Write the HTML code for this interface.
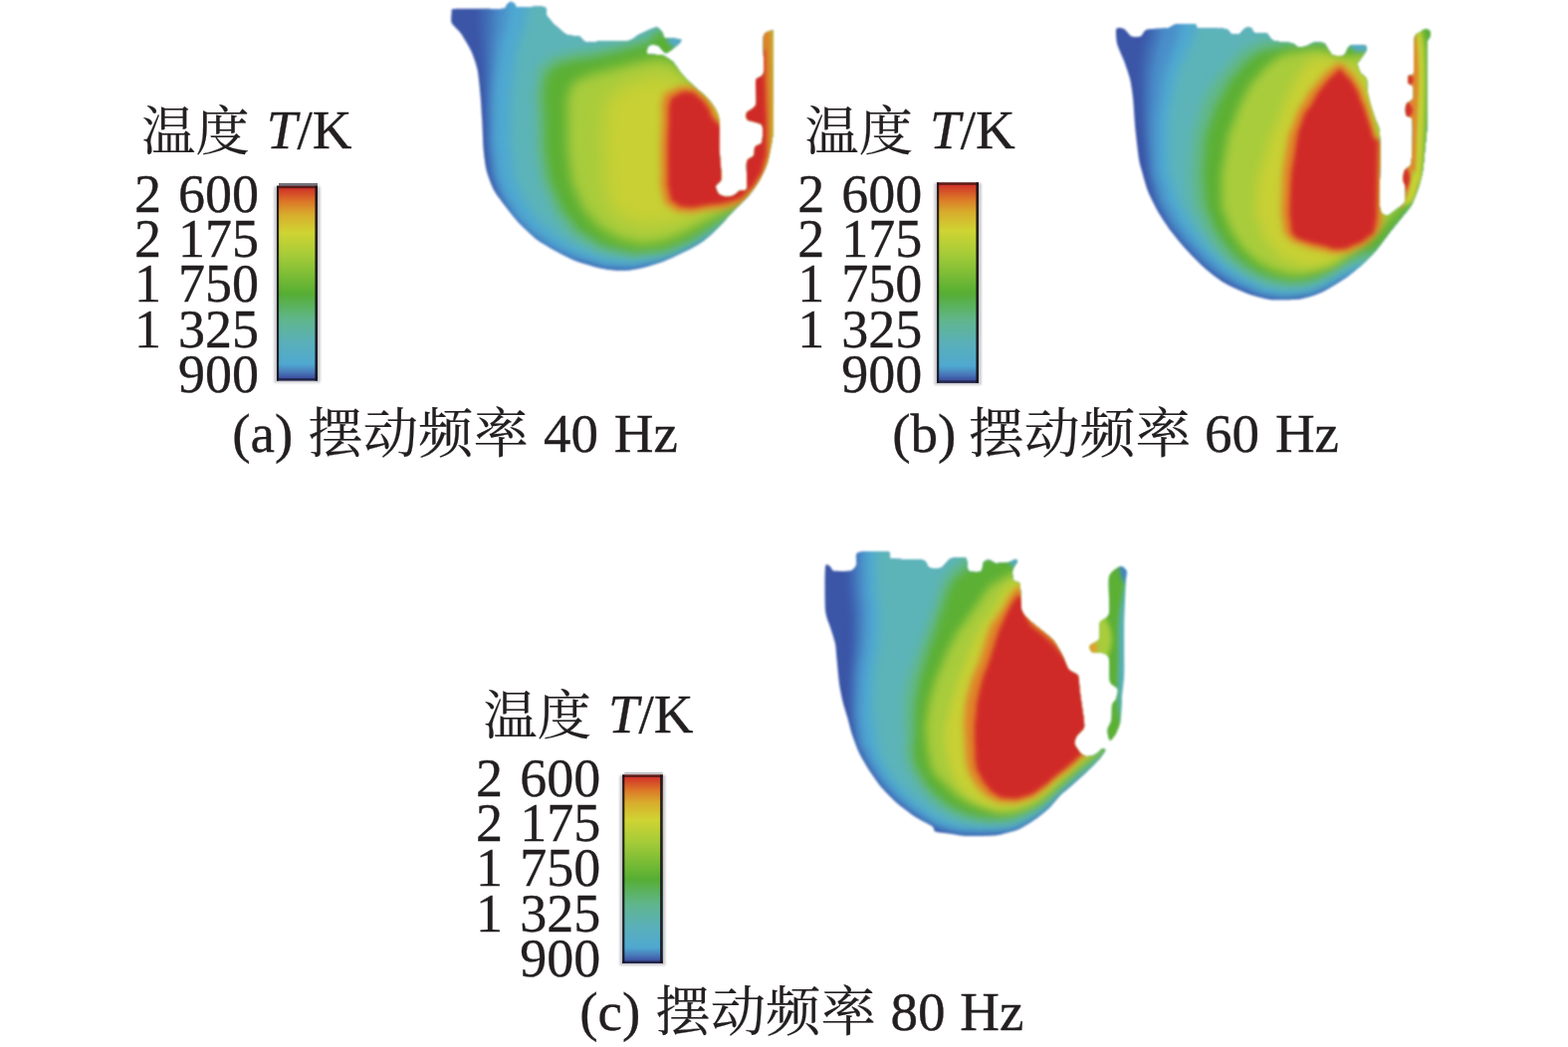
<!DOCTYPE html>
<html lang="zh">
<head>
<meta charset="utf-8">
<title>不同摆动频率下的温度场</title>
<style>
html,body{margin:0;padding:0;background:#fff;}
body{width:1575px;height:1052px;overflow:hidden;position:relative;}
svg{position:absolute;left:0;top:0;display:block;}
text{font-family:"Liberation Serif","Noto Serif CJK SC",serif;fill:#231f20;stroke:#231f20;stroke-width:0.35px;}
.t{font-size:55px;}
.n{font-size:54px;text-anchor:end;word-spacing:3.6px;}
.c{font-size:55px;}
.zh{font-family:"Noto Serif CJK SC","Liberation Serif",serif;font-size:53px;stroke-width:0.2px;}
.zh2{font-family:"Noto Serif CJK SC","Liberation Serif",serif;font-size:54px;stroke-width:0.2px;}
</style>
</head>
<body>
<svg width="1575" height="1052" viewBox="0 0 1575 1052">
<defs>
<linearGradient id="cb" x1="0" y1="0" x2="0" y2="1">
<stop offset="0" stop-color="#b02c28"/>
<stop offset="0.012" stop-color="#d03228"/>
<stop offset="0.085" stop-color="#dc7a28"/>
<stop offset="0.147" stop-color="#d8ac2c"/>
<stop offset="0.24" stop-color="#cfd433"/>
<stop offset="0.36" stop-color="#a4cb38"/>
<stop offset="0.553" stop-color="#56ae33"/>
<stop offset="0.686" stop-color="#60b68c"/>
<stop offset="0.80" stop-color="#5ab0b8"/>
<stop offset="0.916" stop-color="#4fa8d0"/>
<stop offset="0.958" stop-color="#4878b8"/>
<stop offset="0.987" stop-color="#3c4fa0"/>
<stop offset="1" stop-color="#33408c"/>
</linearGradient>
<filter id="b1" x="-50%" y="-50%" width="200%" height="200%" color-interpolation-filters="sRGB"><feGaussianBlur stdDeviation="0.8"/></filter>
<filter id="b2" x="-50%" y="-50%" width="200%" height="200%" color-interpolation-filters="sRGB"><feGaussianBlur stdDeviation="2"/></filter>
<filter id="b3" x="-50%" y="-50%" width="200%" height="200%" color-interpolation-filters="sRGB"><feGaussianBlur stdDeviation="3"/></filter>
<filter id="b4" x="-50%" y="-50%" width="200%" height="200%" color-interpolation-filters="sRGB"><feGaussianBlur stdDeviation="4"/></filter>
<filter id="b5" x="-50%" y="-50%" width="200%" height="200%" color-interpolation-filters="sRGB"><feGaussianBlur stdDeviation="5"/></filter>
<filter id="b6" x="-50%" y="-50%" width="200%" height="200%" color-interpolation-filters="sRGB"><feGaussianBlur stdDeviation="6"/></filter>
<filter id="b9" x="-50%" y="-50%" width="200%" height="200%" color-interpolation-filters="sRGB"><feGaussianBlur stdDeviation="9"/></filter>
<filter id="bh" x="-10%" y="-5%" width="120%" height="110%" color-interpolation-filters="sRGB"><feGaussianBlur stdDeviation="0.45"/></filter>
<filter id="soft" x="-5%" y="-5%" width="110%" height="110%" color-interpolation-filters="sRGB"><feGaussianBlur stdDeviation="0.9"/></filter>
<clipPath id="clipA"><path d="M453.7,12.0 C453.9,10.4 452.4,9.4 455.5,9.0 C458.6,8.6 474.2,8.8 480.0,8.8 C485.8,8.8 502.1,9.2 505.5,8.8 C508.9,8.4 508.1,5.8 509.0,5.0 C509.9,4.2 512.1,1.9 513.0,1.8 C513.9,1.7 516.2,3.4 517.0,4.0 C517.8,4.6 516.5,7.0 520.0,7.3 C523.5,7.6 543.3,6.1 546.7,7.0 C550.1,7.9 547.8,13.1 549.0,15.2 C550.2,17.3 554.9,22.8 557.3,25.1 C559.7,27.4 566.7,33.7 569.5,35.0 C572.3,36.3 579.4,35.7 581.7,36.6 C584.0,37.5 586.3,42.2 589.3,42.7 C592.3,43.2 602.6,41.3 607.6,41.1 C612.6,40.9 627.9,41.6 632.0,40.8 C636.1,40.0 639.5,35.9 642.7,34.3 C645.9,32.7 656.7,27.6 659.4,27.4 C662.1,27.2 664.5,31.6 665.5,32.8 C666.5,34.0 665.8,37.3 667.8,38.1 C669.8,38.9 681.2,38.8 683.0,39.3 C684.8,39.8 684.6,41.1 683.0,42.7 C681.4,44.3 671.9,52.9 669.3,53.3 C666.7,53.6 663.0,46.6 661.0,45.7 C659.0,44.8 653.0,44.7 651.8,45.7 C650.6,46.7 648.7,52.9 650.3,54.1 C651.9,55.3 662.5,54.6 665.5,55.6 C668.5,56.6 673.9,60.3 676.2,62.5 C678.5,64.7 682.8,71.9 685.3,74.7 C687.8,77.5 694.7,84.2 697.5,86.9 C700.3,89.6 707.2,94.8 709.7,97.5 C712.2,100.2 717.4,106.9 718.9,109.7 C720.4,112.5 722.3,117.1 722.7,121.9 C723.1,126.7 722.5,144.9 722.7,150.5 C722.9,156.1 724.0,166.7 724.2,170.3 C724.4,173.9 724.8,179.1 724.2,181.0 C723.6,182.9 719.2,185.4 718.9,187.0 C718.6,188.6 720.7,193.5 721.9,194.7 C723.1,195.9 727.7,197.5 729.5,197.7 C731.3,197.9 735.5,196.9 737.1,196.2 C738.7,195.5 741.7,192.4 743.2,191.6 C744.7,190.8 749.3,192.7 750.1,189.3 C750.9,185.9 749.3,166.5 750.1,162.7 C750.9,158.9 756.0,158.4 757.0,156.6 C758.0,154.8 757.5,149.0 758.5,147.4 C759.5,145.8 764.5,145.4 765.3,142.9 C766.1,140.4 767.0,128.3 765.3,125.7 C763.6,123.1 752.7,121.8 750.9,120.4 C749.1,119.0 749.0,115.3 750.0,113.5 C751.0,111.7 758.1,108.9 759.2,105.1 C760.3,101.3 758.3,84.5 759.2,80.8 C760.1,77.1 766.0,78.3 766.9,73.1 C767.8,67.9 766.1,41.5 766.9,36.6 C767.7,31.7 772.5,31.6 773.7,31.2 C774.9,30.8 776.4,27.8 776.8,33.5 C777.2,39.2 776.8,68.8 776.8,80.0 C776.8,91.2 777.0,122.2 776.8,129.5 C776.6,136.8 775.9,138.9 775.2,142.9 C774.5,146.9 772.1,159.8 770.7,164.2 C769.3,168.6 765.1,177.3 763.0,181.0 C760.9,184.7 755.4,192.7 752.4,196.2 C749.4,199.7 740.7,207.7 737.1,211.4 C733.5,215.1 725.4,224.6 721.9,228.2 C718.4,231.8 710.3,239.2 706.7,241.9 C703.1,244.6 695.8,248.7 691.4,251.0 C687.0,253.3 672.6,260.0 668.6,261.7 C664.6,263.4 659.7,264.9 657.0,265.8 C654.3,266.7 648.4,268.4 645.7,269.0 C643.0,269.6 636.7,270.9 634.0,271.2 C631.3,271.5 625.6,271.8 622.9,271.8 C620.2,271.8 613.7,271.4 611.0,271.0 C608.3,270.6 604.0,269.9 600.0,268.8 C596.0,267.7 581.9,263.6 577.1,261.7 C572.3,259.8 563.3,255.1 558.9,252.6 C554.5,250.1 543.3,243.6 539.0,240.4 C534.7,237.2 525.8,228.8 522.3,225.1 C518.8,221.4 511.6,212.3 508.6,208.4 C505.6,204.5 498.7,195.9 496.4,191.6 C494.1,187.3 490.0,176.6 488.8,171.8 C487.6,167.0 486.2,156.5 485.7,150.5 C485.2,144.5 484.6,126.2 484.2,120.0 C483.8,113.8 483.2,103.3 482.7,97.5 C482.2,91.7 480.7,75.4 479.6,70.1 C478.5,64.8 475.4,56.1 473.5,51.8 C471.6,47.5 465.2,36.9 462.9,33.5 C460.6,30.1 454.8,25.4 453.7,22.9 C452.6,20.4 453.5,13.6 453.7,12.0Z"/></clipPath>
<clipPath id="clipB"><path d="M1121.3,29.0 C1122.1,27.2 1127.2,28.1 1129.0,29.0 C1130.8,29.9 1134.7,35.7 1136.6,36.6 C1138.5,37.5 1143.9,37.4 1145.7,36.6 C1147.5,35.8 1148.6,30.7 1151.8,29.7 C1155.0,28.7 1169.7,28.8 1173.1,28.2 C1176.5,27.6 1177.6,24.8 1180.8,24.4 C1184.0,24.0 1197.9,24.0 1200.6,24.4 C1203.3,24.8 1200.1,27.7 1203.6,28.2 C1207.1,28.7 1227.1,28.3 1231.0,29.0 C1234.9,29.7 1235.5,33.7 1237.1,34.3 C1238.7,34.9 1243.2,35.0 1244.8,34.3 C1246.4,33.6 1249.5,28.9 1250.9,28.2 C1252.3,27.5 1255.9,27.7 1257.0,28.2 C1258.1,28.7 1258.2,32.2 1260.0,32.8 C1261.8,33.4 1270.0,32.6 1272.2,33.5 C1274.4,34.4 1276.0,39.6 1279.0,40.8 C1282.0,42.0 1295.2,42.7 1298.1,43.4 C1301.0,44.1 1302.6,46.8 1304.2,47.2 C1305.8,47.6 1310.0,47.0 1311.8,46.5 C1313.6,46.0 1317.3,43.1 1319.4,42.7 C1321.5,42.3 1328.3,42.5 1330.1,43.4 C1331.9,44.3 1333.6,48.9 1334.7,50.3 C1335.8,51.7 1337.4,55.0 1339.2,55.6 C1341.0,56.2 1348.1,56.6 1349.9,55.6 C1351.7,54.6 1353.4,48.4 1354.5,47.2 C1355.6,46.0 1357.1,45.2 1359.0,45.0 C1360.9,44.8 1369.6,45.1 1371.2,45.7 C1372.8,46.3 1373.3,48.7 1372.8,50.3 C1372.3,51.9 1367.8,57.8 1366.7,59.4 C1365.6,61.0 1363.6,62.4 1363.6,64.0 C1363.6,65.6 1365.6,71.3 1366.7,73.1 C1367.8,74.9 1372.0,77.1 1372.8,79.2 C1373.6,81.3 1373.0,88.2 1373.5,91.4 C1374.0,94.6 1376.3,103.3 1377.3,106.7 C1378.3,110.1 1380.9,117.6 1381.9,120.4 C1382.9,123.2 1385.2,126.4 1385.7,131.0 C1386.2,135.6 1386.5,151.6 1386.5,160.0 C1386.5,168.4 1385.5,197.0 1385.7,203.3 C1385.9,209.6 1387.0,212.5 1388.0,214.0 C1389.0,215.5 1392.4,216.7 1394.0,216.3 C1395.6,216.0 1399.7,212.5 1401.7,211.0 C1403.7,209.5 1409.7,206.0 1410.9,203.3 C1412.1,200.6 1411.8,190.8 1411.6,188.1 C1411.4,185.4 1409.4,182.5 1409.3,180.5 C1409.2,178.5 1410.0,173.1 1410.9,171.3 C1411.8,169.5 1416.1,167.7 1417.0,165.2 C1417.9,162.7 1418.3,155.2 1418.5,150.0 C1418.7,144.8 1419.2,124.4 1418.5,120.4 C1417.8,116.4 1413.1,117.6 1412.4,115.8 C1411.7,114.0 1411.6,107.1 1412.4,105.1 C1413.2,103.1 1418.4,101.1 1419.2,99.0 C1420.0,96.9 1419.7,88.7 1419.2,86.9 C1418.7,85.1 1415.2,85.0 1414.7,83.8 C1414.2,82.6 1414.1,77.4 1414.7,76.2 C1415.3,75.0 1419.3,77.5 1420.0,73.1 C1420.7,68.7 1420.0,42.9 1420.8,38.1 C1421.6,33.3 1425.7,33.1 1427.0,32.0 C1428.3,30.9 1431.1,29.0 1432.2,29.0 C1433.3,29.0 1436.4,30.9 1436.8,32.0 C1437.2,33.1 1436.4,36.5 1436.0,38.1 C1435.6,39.7 1434.0,35.9 1433.7,45.7 C1433.4,55.5 1434.0,109.7 1433.7,121.9 C1433.4,134.1 1431.9,144.1 1431.4,150.0 C1430.9,155.9 1429.8,168.3 1429.0,172.9 C1428.2,177.5 1425.8,185.9 1424.6,189.6 C1423.4,193.3 1420.3,201.7 1418.5,204.9 C1416.7,208.1 1411.8,213.8 1409.3,217.0 C1406.8,220.2 1400.2,228.2 1397.0,232.3 C1393.8,236.4 1385.5,247.9 1382.0,252.0 C1378.5,256.1 1370.3,264.1 1366.7,267.3 C1363.1,270.5 1355.8,276.5 1351.4,279.5 C1347.0,282.5 1333.9,290.8 1328.6,293.2 C1323.3,295.6 1311.9,299.6 1305.7,300.5 C1299.5,301.4 1281.4,301.6 1275.2,300.9 C1269.0,300.2 1257.7,296.8 1252.4,294.8 C1247.1,292.8 1234.5,287.1 1229.5,284.1 C1224.5,281.1 1214.1,272.8 1209.7,268.9 C1205.3,265.0 1195.3,254.9 1191.4,250.6 C1187.5,246.3 1179.4,236.6 1176.2,232.3 C1173.0,228.0 1166.7,218.6 1164.0,214.0 C1161.3,209.4 1155.3,197.6 1153.3,192.7 C1151.3,187.8 1148.1,175.8 1147.0,172.0 C1145.9,168.2 1144.8,165.0 1144.0,160.0 C1143.2,155.0 1141.1,136.6 1140.4,129.5 C1139.7,122.4 1138.7,104.9 1138.1,99.0 C1137.5,93.1 1136.1,83.6 1135.0,79.2 C1133.9,74.8 1130.5,65.1 1129.0,61.0 C1127.5,56.9 1123.0,47.9 1122.1,44.2 C1121.2,40.5 1120.5,30.8 1121.3,29.0Z"/></clipPath>
<clipPath id="clipC"><path d="M829.0,569.7 C829.6,564.6 833.4,569.3 834.4,569.7 C835.4,570.1 835.1,573.1 837.4,573.5 C839.7,573.9 851.5,574.2 854.2,573.5 C856.9,572.8 859.4,569.5 860.3,567.4 C861.2,565.3 858.1,556.7 861.8,555.2 C865.5,553.7 888.4,553.8 892.3,554.5 C896.2,555.2 891.2,560.3 895.3,561.3 C899.4,562.3 922.9,561.8 927.3,562.9 C931.7,564.0 931.3,569.6 933.4,570.5 C935.5,571.4 943.1,571.6 945.6,570.5 C948.1,569.4 952.0,562.5 954.8,561.3 C957.6,560.1 967.9,559.2 970.0,560.6 C972.1,562.0 971.2,571.9 973.0,573.5 C974.8,575.1 983.4,575.4 985.2,574.3 C987.0,573.2 987.2,565.7 988.3,564.4 C989.4,563.1 993.0,562.7 994.4,562.9 C995.8,563.1 998.4,565.6 1000.5,565.9 C1002.6,566.2 1010.4,565.5 1012.7,565.1 C1015.0,564.7 1019.2,562.2 1020.3,562.1 C1021.4,562.0 1022.2,563.2 1021.8,564.4 C1021.4,565.6 1017.6,570.6 1017.2,572.8 C1016.8,575.0 1017.1,581.3 1018.0,583.0 C1018.9,584.7 1023.5,583.5 1024.5,587.0 C1025.5,590.5 1025.3,608.9 1026.4,613.1 C1027.5,617.3 1031.7,620.7 1034.0,623.0 C1036.3,625.3 1043.4,630.6 1046.2,633.0 C1049.0,635.4 1055.9,640.6 1058.4,643.6 C1060.9,646.6 1065.7,655.5 1067.5,658.9 C1069.3,662.3 1071.8,670.3 1073.6,672.6 C1075.4,674.9 1081.6,676.7 1082.8,678.7 C1084.0,680.7 1084.0,687.3 1084.3,690.0 C1084.6,692.7 1085.4,699.0 1085.8,702.2 C1086.2,705.4 1087.6,714.0 1088.0,717.4 C1088.4,720.8 1089.7,728.4 1088.9,731.1 C1088.1,733.8 1082.3,738.3 1081.2,740.3 C1080.1,742.3 1079.2,746.0 1079.7,747.9 C1080.2,749.8 1084.4,755.6 1085.8,757.0 C1087.2,758.4 1090.3,759.8 1091.9,760.0 C1093.5,760.2 1097.7,759.5 1099.5,758.6 C1101.3,757.7 1105.8,753.0 1107.0,752.5 C1108.2,752.0 1110.5,752.8 1110.2,754.0 C1109.9,755.2 1106.1,760.6 1104.0,763.1 C1101.9,765.6 1095.1,772.3 1091.9,775.3 C1088.7,778.3 1079.9,786.2 1076.7,789.0 C1073.5,791.8 1067.2,797.0 1064.5,799.7 C1061.8,802.4 1056.8,809.1 1053.8,811.9 C1050.8,814.7 1042.2,821.6 1038.6,824.1 C1035.0,826.6 1027.7,831.4 1023.3,833.2 C1018.9,835.0 1006.7,838.5 1000.5,839.3 C994.3,840.1 975.3,840.2 970.0,840.0 C964.7,839.8 958.4,838.3 954.8,837.8 C951.2,837.3 941.6,836.4 939.5,835.5 C937.4,834.6 938.8,831.9 936.5,830.2 C934.2,828.5 923.8,823.7 919.7,821.0 C915.6,818.3 905.3,810.7 901.4,807.3 C897.5,803.9 889.4,795.8 886.2,792.1 C883.0,788.4 876.7,779.4 874.0,775.3 C871.3,771.2 865.4,761.4 863.3,757.0 C861.2,752.6 857.1,741.5 855.7,737.2 C854.3,732.9 852.2,724.2 851.1,720.5 C850.0,716.8 847.5,708.8 846.6,705.2 C845.7,701.6 843.9,692.4 843.5,690.0 C843.1,687.6 843.1,688.1 842.8,684.8 C842.4,681.5 840.9,666.3 840.5,661.9 C840.1,657.5 839.7,650.3 839.0,646.7 C838.3,643.1 835.6,635.3 834.4,631.4 C833.2,627.5 829.6,620.3 829.0,613.1 C828.4,605.9 828.4,574.8 829.0,569.7Z"/></clipPath>
<clipPath id="clipD"><path d="M1125.4,569.0 C1127.4,568.3 1130.9,571.6 1131.5,573.5 C1132.1,575.4 1131.1,578.9 1130.8,585.7 C1130.5,592.5 1129.4,620.7 1129.2,631.4 C1129.0,642.1 1129.5,669.0 1129.2,677.0 C1128.9,685.0 1127.3,696.7 1127.0,700.0 C1126.7,703.3 1127.2,702.3 1127.0,705.2 C1126.8,708.1 1126.1,721.3 1125.4,725.0 C1124.7,728.7 1122.1,735.0 1120.9,737.2 C1119.7,739.4 1116.4,743.7 1115.5,744.1 C1114.6,744.5 1113.5,741.6 1113.2,740.3 C1112.9,739.0 1112.1,734.7 1112.5,732.7 C1112.9,730.7 1115.8,726.3 1116.3,723.5 C1116.8,720.7 1116.5,710.8 1117.0,708.3 C1117.5,705.8 1120.3,704.1 1120.9,702.2 C1121.5,700.3 1123.1,694.4 1122.4,692.4 C1121.7,690.4 1115.8,688.3 1114.8,684.8 C1113.8,681.3 1114.7,665.3 1114.0,662.0 C1113.3,658.7 1110.6,657.3 1108.7,656.6 C1106.8,655.9 1099.6,656.2 1098.0,655.8 C1096.4,655.4 1095.3,653.7 1095.0,652.8 C1094.7,651.9 1094.0,649.5 1095.0,648.2 C1096.0,646.9 1102.8,644.7 1104.0,642.0 C1105.2,639.3 1103.7,628.3 1104.9,625.3 C1106.1,622.3 1112.9,621.5 1114.0,616.2 C1115.1,610.9 1112.7,585.1 1114.0,579.6 C1115.3,574.1 1123.4,569.7 1125.4,569.0Z"/></clipPath>
</defs>
<g filter="url(#soft)"><g clip-path="url(#clipA)">
<rect x="440" y="-10" width="360" height="300" fill="#3b55a7"/>
<path d="M484.0,-20.0 C483.9,-6.7 482.9,-6.7 483.6,20.0 C484.2,46.7 484.0,26.7 486.0,60.0 C488.0,93.3 487.7,86.7 489.5,120.0 C491.3,153.3 489.2,138.3 491.5,160.0 C493.8,181.7 491.5,170.0 496.5,185.0 C501.5,200.0 498.5,192.0 506.5,205.0 C514.5,218.0 509.8,212.0 520.5,224.0 C531.2,236.0 524.7,231.5 538.5,241.0 C552.3,250.5 545.5,245.7 562.0,252.5 C578.5,259.3 568.7,256.5 588.0,261.5 C607.3,266.5 599.3,266.5 620.0,267.5 C640.7,268.5 631.7,268.0 650.0,264.5 C668.3,261.0 660.0,262.7 675.0,257.0 C690.0,251.3 681.7,254.3 695.0,247.5 C708.3,240.7 693.3,247.8 715.0,236.5 C736.7,225.2 745.0,221.2 760.0,213.5 L800.0,215.0 L800.0,-20.0Z" fill="#4170b8" filter="url(#b4)"/>
<path d="M497.0,-20.0 C496.7,-6.7 497.0,-6.7 496.0,20.0 C495.0,46.7 495.3,26.7 494.0,60.0 C492.7,93.3 492.0,86.7 492.0,120.0 C492.0,153.3 491.7,138.3 494.0,160.0 C496.3,181.7 494.0,170.0 499.0,185.0 C504.0,200.0 501.0,192.0 509.0,205.0 C517.0,218.0 512.3,212.0 523.0,224.0 C533.7,236.0 528.0,231.0 541.0,241.0 C554.0,251.0 546.3,246.7 562.0,254.0 C577.7,261.3 568.7,258.0 588.0,263.0 C607.3,268.0 599.3,268.0 620.0,269.0 C640.7,270.0 631.7,269.5 650.0,266.0 C668.3,262.5 660.0,264.2 675.0,258.5 C690.0,252.8 681.7,255.8 695.0,249.0 C708.3,242.2 693.3,249.3 715.0,238.0 C736.7,226.7 745.0,222.7 760.0,215.0 L800.0,215.0 L800.0,-20.0Z" fill="#4a8fca" filter="url(#b4)"/>
<path d="M512.0,-20.0 C511.0,-6.7 512.7,-6.7 509.0,20.0 C505.3,46.7 505.0,26.7 501.0,60.0 C497.0,93.3 497.7,86.7 497.0,120.0 C496.3,153.3 496.7,138.3 499.0,160.0 C501.3,181.7 499.0,170.0 504.0,185.0 C509.0,200.0 506.0,192.0 514.0,205.0 C522.0,218.0 516.7,212.3 528.0,224.0 C539.3,235.7 534.7,230.7 548.0,240.0 C561.3,249.3 553.3,245.0 568.0,252.0 C582.7,259.0 574.7,256.2 592.0,261.0 C609.3,265.8 600.7,265.5 620.0,266.5 C639.3,267.5 631.7,267.2 650.0,264.0 C668.3,260.8 660.0,262.5 675.0,257.0 C690.0,251.5 681.7,254.2 695.0,247.5 C708.3,240.8 693.3,248.8 715.0,237.0 C736.7,225.2 745.0,220.3 760.0,212.0 L800.0,212.0 L800.0,-20.0Z" fill="#4fa9d1" filter="url(#b4)"/>
<path d="M532.0,-20.0 C530.7,-6.7 532.7,-6.7 528.0,20.0 C523.3,46.7 523.0,26.7 518.0,60.0 C513.0,93.3 514.0,86.7 513.0,120.0 C512.0,153.3 512.3,137.3 515.0,160.0 C517.7,182.7 515.3,172.0 521.0,188.0 C526.7,204.0 523.3,195.3 532.0,208.0 C540.7,220.7 535.3,215.0 547.0,226.0 C558.7,237.0 552.3,232.0 567.0,241.0 C581.7,250.0 573.3,246.5 591.0,253.0 C608.7,259.5 600.3,258.3 620.0,260.5 C639.7,262.7 631.7,262.0 650.0,259.5 C668.3,257.0 660.0,258.2 675.0,253.0 C690.0,247.8 681.7,250.3 695.0,244.0 C708.3,237.7 693.3,246.0 715.0,234.0 C736.7,222.0 745.0,216.7 760.0,208.0 L800.0,208.0 L800.0,-20.0Z" fill="#5cb4b8" filter="url(#b5)"/>
<path d="M700.0,20.0 C687.3,23.3 678.7,24.7 662.0,30.0 C645.3,35.3 664.0,31.3 650.0,36.0 C636.0,40.7 639.3,39.7 620.0,44.0 C600.7,48.3 608.7,46.0 592.0,49.0 C575.3,52.0 584.7,48.7 570.0,53.0 C555.3,57.3 558.3,53.0 548.0,62.0 C537.7,71.0 542.3,60.7 539.0,80.0 C535.7,99.3 537.3,91.7 538.0,120.0 C538.7,148.3 536.7,138.7 541.0,165.0 C545.3,191.3 543.0,179.3 551.0,199.0 C559.0,218.7 553.3,209.3 565.0,224.0 C576.7,238.7 567.7,232.7 586.0,243.0 C604.3,253.3 597.7,250.5 620.0,255.0 C642.3,259.5 633.0,258.2 653.0,256.5 C673.0,254.8 662.3,256.5 680.0,250.0 C697.7,243.5 690.0,246.7 706.0,237.0 C722.0,227.3 710.0,233.3 728.0,221.0 C746.0,208.7 749.3,207.0 760.0,200.0 L800.0,200.0 L800.0,20.0Z" fill="#62b88c" filter="url(#b5)"/>
<path d="M700.0,26.0 C688.3,28.0 681.0,26.7 665.0,32.0 C649.0,37.3 661.0,37.0 652.0,42.0 C643.0,47.0 650.3,43.3 638.0,47.0 C625.7,50.7 630.3,49.3 615.0,53.0 C599.7,56.7 607.0,55.0 592.0,58.0 C577.0,61.0 582.3,58.3 570.0,62.0 C557.7,65.7 562.7,61.3 555.0,69.0 C547.3,76.7 549.7,68.0 547.0,85.0 C544.3,102.0 546.1,93.1 547.0,120.0 C547.9,146.9 545.7,140.3 549.7,165.7 C553.7,191.1 551.3,178.1 558.9,196.2 C566.5,214.3 561.4,206.0 572.6,220.0 C583.8,234.0 575.6,228.1 592.4,238.3 C609.2,248.5 602.7,245.9 622.9,250.5 C643.1,255.1 634.0,253.5 653.0,252.0 C672.0,250.5 662.1,252.7 680.0,246.0 C697.9,239.3 690.4,241.7 706.7,232.0 C723.0,222.3 711.2,229.3 729.0,217.0 C746.8,204.7 749.7,202.3 760.0,195.0 L800.0,195.0 L800.0,26.0Z" fill="#5cb034" filter="url(#b5)"/>
<path d="M720.0,105.0 C713.3,98.7 712.7,98.3 700.0,86.0 C687.3,73.7 693.7,76.7 682.0,68.0 C670.3,59.3 677.3,62.0 665.0,60.0 C652.7,58.0 660.0,59.3 645.0,62.0 C630.0,64.7 637.7,63.3 620.0,68.0 C602.3,72.7 606.0,71.0 592.0,76.0 C578.0,81.0 585.0,76.3 578.0,83.0 C571.0,89.7 573.7,83.7 571.0,96.0 C568.3,108.3 569.7,97.0 570.0,120.0 C570.3,143.0 568.7,139.7 572.0,165.0 C575.3,190.3 572.7,178.0 580.0,196.0 C587.3,214.0 583.3,206.3 594.0,219.0 C604.7,231.7 598.3,226.0 612.0,234.0 C625.7,242.0 620.7,239.7 635.0,243.0 C649.3,246.3 640.0,246.0 655.0,244.0 C670.0,242.0 663.0,244.0 680.0,237.0 C697.0,230.0 689.7,232.0 706.0,223.0 C722.3,214.0 711.0,221.0 729.0,210.0 C747.0,199.0 749.7,196.7 760.0,190.0 L800.0,190.0 L800.0,105.0Z" fill="#a8cc3c" filter="url(#b6)"/>
<path d="M720.0,100.0 C710.0,95.3 706.7,93.7 690.0,86.0 C673.3,78.3 685.0,79.0 670.0,77.0 C655.0,75.0 661.0,75.7 645.0,80.0 C629.0,84.3 633.7,82.7 622.0,90.0 C610.3,97.3 615.0,92.0 610.0,102.0 C605.0,112.0 608.0,99.0 607.0,120.0 C606.0,141.0 606.0,139.7 607.0,165.0 C608.0,190.3 606.3,180.3 610.0,196.0 C613.7,211.7 610.7,203.3 618.0,212.0 C625.3,220.7 619.7,217.3 632.0,222.0 C644.3,226.7 639.0,226.0 655.0,226.0 C671.0,226.0 663.0,226.3 680.0,222.0 C697.0,217.7 689.7,218.7 706.0,213.0 C722.3,207.3 711.0,212.7 729.0,205.0 C747.0,197.3 749.7,195.0 760.0,190.0 L800.0,190.0 L800.0,100.0Z" fill="#c8d034" filter="url(#b9)"/>
<path d="M768.0,22.0 C772.7,-20.7 777.3,-20.7 782.0,22.0 C786.7,64.7 786.7,107.3 782.0,150.0 C777.3,192.7 772.7,192.7 768.0,150.0 C763.3,107.3 763.3,64.7 768.0,22.0Z" fill="#b4c838" filter="url(#b2)"/>
<path d="M730.0,130.0 C727.0,126.0 726.3,126.7 721.0,118.0 C715.7,109.3 719.7,112.3 714.0,104.0 C708.3,95.7 711.3,98.7 704.0,93.0 C696.7,87.3 702.0,87.7 692.0,87.0 C682.0,86.3 682.7,86.7 674.0,91.0 C665.3,95.3 669.0,90.3 666.0,100.0 C663.0,109.7 665.7,98.3 665.0,120.0 C664.3,141.7 663.7,139.7 664.0,165.0 C664.3,190.3 662.7,181.7 666.0,196.0 C669.3,210.3 666.7,202.3 674.0,208.0 C681.3,213.7 676.0,212.0 688.0,213.0 C700.0,214.0 692.7,213.3 710.0,211.0 C727.3,208.7 725.7,211.3 740.0,206.0 C754.3,200.7 745.0,203.3 753.0,195.0 C761.0,186.7 758.0,191.0 764.0,181.0 C770.0,171.0 767.2,178.7 771.0,165.0 C774.8,151.3 773.9,188.3 775.3,140.0 C776.7,91.7 775.3,60.0 775.3,20.0 L740.0,20.0 L740.0,130.0Z" fill="#e08028" filter="url(#b3)"/>
<path d="M730.0,130.0 C725.7,126.7 723.3,127.3 717.0,120.0 C710.7,112.7 716.0,115.3 711.0,108.0 C706.0,100.7 708.3,103.2 702.0,98.0 C695.7,92.8 699.7,93.2 692.0,92.5 C684.3,91.8 685.3,92.2 679.0,96.0 C672.7,99.8 675.3,96.0 673.0,104.0 C670.7,112.0 672.7,99.7 672.0,120.0 C671.3,140.3 670.7,140.0 671.0,165.0 C671.3,190.0 670.3,182.0 673.0,195.0 C675.7,208.0 673.3,199.7 679.0,204.0 C684.7,208.3 679.7,207.3 690.0,208.0 C700.3,208.7 694.3,208.3 710.0,206.0 C725.7,203.7 723.7,205.3 737.0,201.0 C750.3,196.7 742.3,199.7 750.0,193.0 C757.7,186.3 754.3,190.3 760.0,181.0 C765.7,171.7 763.7,178.7 767.0,165.0 C770.3,151.3 769.3,165.0 770.0,140.0 C770.7,115.0 769.7,120.0 769.0,90.0 C768.3,60.0 768.3,63.3 768.0,50.0 L740.0,50.0 L740.0,130.0Z" fill="#d02a28" filter="url(#b2)"/>
<path d="M672.0,34.0 C676.7,29.7 684.0,30.0 690.0,34.0 C696.0,38.0 694.7,41.7 690.0,46.0 C685.3,50.3 682.0,51.0 676.0,47.0 C670.0,43.0 667.3,38.3 672.0,34.0Z" fill="#55aac8" filter="url(#b2)"/>
</g></g>
<g filter="url(#soft)"><g clip-path="url(#clipB)">
<rect x="1100" y="0" width="360" height="320" fill="#3b55a7"/>
<path d="M1157.0,0.0 C1156.3,6.7 1156.3,7.3 1155.0,20.0 C1153.7,32.7 1155.0,27.0 1153.0,38.0 C1151.0,49.0 1150.7,35.3 1149.0,53.0 C1147.3,70.7 1146.6,58.0 1147.8,91.0 C1148.9,124.0 1148.9,119.0 1152.5,152.0 C1156.1,185.0 1153.5,169.7 1158.5,190.0 C1163.5,210.3 1160.5,199.0 1167.5,213.0 C1174.5,227.0 1170.5,219.7 1179.5,232.0 C1188.5,244.3 1183.8,238.3 1194.5,250.0 C1205.2,261.7 1198.7,257.2 1211.5,267.0 C1224.3,276.8 1218.8,272.0 1233.0,279.5 C1247.2,287.0 1239.7,284.0 1254.0,289.5 C1268.3,295.0 1259.0,293.8 1276.0,296.0 C1293.0,298.2 1287.7,298.0 1305.0,296.0 C1322.3,294.0 1314.7,294.8 1328.0,290.0 C1341.3,285.2 1334.3,286.7 1345.0,281.5 C1355.7,276.3 1348.3,280.2 1360.0,274.5 C1371.7,268.8 1366.7,274.8 1380.0,264.5 C1393.3,254.2 1386.7,258.8 1400.0,243.5 C1413.3,228.2 1405.0,240.2 1420.0,218.5 C1435.0,196.8 1436.7,191.8 1445.0,178.5 L1460.0,180.0 L1460.0,0.0Z" fill="#4170b8" filter="url(#b4)"/>
<path d="M1168.0,0.0 C1167.3,6.7 1167.3,7.3 1166.0,20.0 C1164.7,32.7 1166.0,27.0 1164.0,38.0 C1162.0,49.0 1163.0,35.3 1160.0,53.0 C1157.0,70.7 1156.7,58.0 1155.0,91.0 C1153.3,124.0 1153.0,119.0 1155.0,152.0 C1157.0,185.0 1156.0,169.7 1161.0,190.0 C1166.0,210.3 1163.0,199.0 1170.0,213.0 C1177.0,227.0 1173.0,219.7 1182.0,232.0 C1191.0,244.3 1186.3,238.3 1197.0,250.0 C1207.7,261.7 1202.0,256.7 1214.0,267.0 C1226.0,277.3 1219.7,273.0 1233.0,281.0 C1246.3,289.0 1239.7,285.5 1254.0,291.0 C1268.3,296.5 1259.0,295.3 1276.0,297.5 C1293.0,299.7 1287.7,299.5 1305.0,297.5 C1322.3,295.5 1314.7,296.3 1328.0,291.5 C1341.3,286.7 1334.3,288.2 1345.0,283.0 C1355.7,277.8 1348.3,281.7 1360.0,276.0 C1371.7,270.3 1366.7,276.3 1380.0,266.0 C1393.3,255.7 1386.7,260.3 1400.0,245.0 C1413.3,229.7 1405.0,241.7 1420.0,220.0 C1435.0,198.3 1436.7,193.3 1445.0,180.0 L1460.0,180.0 L1460.0,0.0Z" fill="#4a8fca" filter="url(#b4)"/>
<path d="M1187.0,0.0 C1186.3,6.7 1186.3,7.3 1185.0,20.0 C1183.7,32.7 1185.7,27.0 1183.0,38.0 C1180.3,49.0 1182.3,35.3 1177.0,53.0 C1171.7,70.7 1171.7,58.0 1167.0,91.0 C1162.3,124.0 1162.3,119.0 1163.0,152.0 C1163.7,185.0 1164.0,170.0 1169.0,190.0 C1174.0,210.0 1171.0,198.3 1178.0,212.0 C1185.0,225.7 1181.0,218.7 1190.0,231.0 C1199.0,243.3 1194.7,237.7 1205.0,249.0 C1215.3,260.3 1210.0,255.3 1221.0,265.0 C1232.0,274.7 1226.0,270.3 1238.0,278.0 C1250.0,285.7 1244.0,282.5 1257.0,288.0 C1270.0,293.5 1261.0,292.3 1277.0,294.5 C1293.0,296.7 1288.3,296.5 1305.0,294.5 C1321.7,292.5 1313.7,293.5 1327.0,288.5 C1340.3,283.5 1334.0,284.7 1345.0,279.5 C1356.0,274.3 1348.3,278.2 1360.0,273.0 C1371.7,267.8 1366.7,273.3 1380.0,264.0 C1393.3,254.7 1386.7,259.7 1400.0,245.0 C1413.3,230.3 1405.0,241.7 1420.0,220.0 C1435.0,198.3 1436.7,193.3 1445.0,180.0 L1460.0,180.0 L1460.0,0.0Z" fill="#4fa9d1" filter="url(#b4)"/>
<path d="M1204.0,0.0 C1203.3,6.7 1203.7,7.3 1202.0,20.0 C1200.3,32.7 1202.3,27.0 1199.0,38.0 C1195.7,49.0 1198.7,35.3 1192.0,53.0 C1185.3,70.7 1185.0,58.0 1179.0,91.0 C1173.0,124.0 1173.7,119.0 1174.0,152.0 C1174.3,185.0 1175.3,170.7 1180.0,190.0 C1184.7,209.3 1181.7,197.0 1188.0,210.0 C1194.3,223.0 1191.0,217.0 1199.0,229.0 C1207.0,241.0 1202.7,235.3 1212.0,246.0 C1221.3,256.7 1216.7,252.0 1227.0,261.0 C1237.3,270.0 1232.0,265.7 1243.0,273.0 C1254.0,280.3 1248.0,277.3 1260.0,283.0 C1272.0,288.7 1264.0,287.3 1279.0,290.0 C1294.0,292.7 1289.3,292.5 1305.0,291.0 C1320.7,289.5 1312.3,290.8 1326.0,285.5 C1339.7,280.2 1334.7,281.0 1346.0,275.0 C1357.3,269.0 1350.3,271.8 1360.0,267.5 C1369.7,263.2 1361.7,269.5 1375.0,262.0 C1388.3,254.5 1385.0,259.0 1400.0,245.0 C1415.0,231.0 1405.0,241.7 1420.0,220.0 C1435.0,198.3 1436.7,193.3 1445.0,180.0 L1460.0,180.0 L1460.0,0.0Z" fill="#5cb4b8" filter="url(#b5)"/>
<path d="M1400.0,30.0 C1393.3,30.7 1413.3,29.3 1380.0,32.0 C1346.7,34.7 1336.7,35.3 1300.0,38.0 C1263.3,40.7 1284.0,37.7 1270.0,40.0 C1256.0,42.3 1266.3,40.7 1258.0,45.0 C1249.7,49.3 1254.3,44.7 1245.0,53.0 C1235.7,61.3 1240.3,57.3 1230.0,70.0 C1219.7,82.7 1223.0,74.3 1214.0,91.0 C1205.0,107.7 1208.7,99.7 1203.0,120.0 C1197.3,140.3 1199.0,127.0 1197.0,152.0 C1195.0,177.0 1195.0,174.0 1197.0,195.0 C1199.0,216.0 1197.7,201.7 1203.0,215.0 C1208.3,228.3 1205.7,222.7 1213.0,235.0 C1220.3,247.3 1216.0,241.7 1225.0,252.0 C1234.0,262.3 1229.0,257.7 1240.0,266.0 C1251.0,274.3 1244.7,270.7 1258.0,277.0 C1271.3,283.3 1264.3,281.8 1280.0,285.0 C1295.7,288.2 1290.0,287.7 1305.0,286.5 C1320.0,285.3 1312.0,286.7 1325.0,281.5 C1338.0,276.3 1333.0,276.8 1344.0,271.0 C1355.0,265.2 1348.7,267.0 1358.0,264.0 C1367.3,261.0 1362.0,266.0 1372.0,262.0 C1382.0,258.0 1378.7,259.3 1388.0,252.0 C1397.3,244.7 1389.3,250.7 1400.0,240.0 C1410.7,229.3 1405.0,240.0 1420.0,220.0 C1435.0,200.0 1436.7,193.3 1445.0,180.0 L1460.0,180.0 L1460.0,0.0 L1400.0,0.0Z" fill="#62b88c" filter="url(#b5)"/>
<path d="M1400.0,36.0 C1393.3,36.7 1403.3,35.3 1380.0,38.0 C1356.7,40.7 1356.7,41.3 1330.0,44.0 C1303.3,46.7 1318.3,44.0 1300.0,46.0 C1281.7,48.0 1288.0,47.0 1275.0,50.0 C1262.0,53.0 1271.0,48.3 1261.0,55.0 C1251.0,61.7 1255.3,58.0 1245.0,70.0 C1234.7,82.0 1239.3,74.3 1230.0,91.0 C1220.7,107.7 1223.7,99.7 1217.0,120.0 C1210.3,140.3 1212.3,127.0 1210.0,152.0 C1207.7,177.0 1208.0,173.0 1210.0,195.0 C1212.0,217.0 1210.7,203.7 1216.0,218.0 C1221.3,232.3 1218.7,226.0 1226.0,238.0 C1233.3,250.0 1229.3,244.7 1238.0,254.0 C1246.7,263.3 1242.0,259.0 1252.0,266.0 C1262.0,273.0 1257.0,270.3 1268.0,275.0 C1279.0,279.7 1272.7,277.8 1285.0,280.0 C1297.3,282.2 1292.0,282.5 1305.0,281.5 C1318.0,280.5 1311.7,281.7 1324.0,277.0 C1336.3,272.3 1331.0,273.8 1342.0,267.5 C1353.0,261.2 1347.7,262.8 1357.0,258.0 C1366.3,253.2 1362.3,255.0 1370.0,253.0 C1377.7,251.0 1373.3,254.7 1380.0,252.0 C1386.7,249.3 1383.3,251.7 1390.0,245.0 C1396.7,238.3 1392.7,241.3 1400.0,232.0 C1407.3,222.7 1405.0,226.3 1412.0,217.0 C1419.0,207.7 1415.7,213.0 1421.0,204.0 C1426.3,195.0 1424.0,201.3 1428.0,190.0 C1432.0,178.7 1430.3,183.3 1433.0,170.0 C1435.7,156.7 1434.7,173.3 1436.0,150.0 C1437.3,126.7 1436.7,116.7 1437.0,100.0 L1436.0,60.0 L1460.0,60.0 L1460.0,0.0 L1400.0,0.0Z" fill="#5cb034" filter="url(#b5)"/>
<path d="M1400.0,50.0 C1393.3,50.7 1398.3,49.3 1380.0,52.0 C1361.7,54.7 1360.0,57.7 1345.0,58.0 C1330.0,58.3 1343.3,55.7 1335.0,53.0 C1326.7,50.3 1330.0,50.3 1320.0,50.0 C1310.0,49.7 1315.0,50.3 1305.0,52.0 C1295.0,53.7 1299.3,51.3 1290.0,55.0 C1280.7,58.7 1285.7,56.0 1277.0,63.0 C1268.3,70.0 1272.0,66.7 1264.0,76.0 C1256.0,85.3 1261.0,76.3 1253.0,91.0 C1245.0,105.7 1247.3,99.7 1240.0,120.0 C1232.7,140.3 1235.3,127.0 1231.0,152.0 C1226.7,177.0 1226.7,172.3 1227.0,195.0 C1227.3,217.7 1227.0,205.0 1232.0,220.0 C1237.0,235.0 1234.3,228.0 1242.0,240.0 C1249.7,252.0 1245.7,247.0 1255.0,256.0 C1264.3,265.0 1259.0,261.0 1270.0,267.0 C1281.0,273.0 1276.3,271.0 1288.0,274.0 C1299.7,277.0 1293.7,276.7 1305.0,276.0 C1316.3,275.3 1310.3,276.3 1322.0,272.0 C1333.7,267.7 1329.0,269.5 1340.0,263.0 C1351.0,256.5 1345.3,259.2 1355.0,252.5 C1364.7,245.8 1360.0,249.8 1369.0,243.0 C1378.0,236.2 1373.7,239.0 1382.0,232.0 C1390.3,225.0 1386.3,229.3 1394.0,222.0 C1401.7,214.7 1398.3,218.0 1405.0,210.0 C1411.7,202.0 1408.7,207.0 1414.0,198.0 C1419.3,189.0 1417.0,194.0 1421.0,183.0 C1425.0,172.0 1423.3,176.0 1426.0,165.0 C1428.7,154.0 1427.5,171.7 1429.0,150.0 C1430.5,128.3 1430.0,116.7 1430.5,100.0 L1431.0,40.0 L1400.0,40.0Z" fill="#a8cc3c" filter="url(#b5)"/>
<path d="M1381.0,140.0 C1380.0,126.7 1382.3,121.3 1378.0,100.0 C1373.7,78.7 1377.3,88.7 1368.0,76.0 C1358.7,63.3 1361.0,68.0 1350.0,62.0 C1339.0,56.0 1345.0,58.7 1335.0,58.0 C1325.0,57.3 1329.0,56.0 1320.0,60.0 C1311.0,64.0 1316.0,59.7 1308.0,70.0 C1300.0,80.3 1304.0,74.3 1296.0,91.0 C1288.0,107.7 1292.0,99.7 1284.0,120.0 C1276.0,140.3 1279.3,127.0 1272.0,152.0 C1264.7,177.0 1264.0,169.7 1262.0,195.0 C1260.0,220.3 1260.3,209.7 1266.0,228.0 C1271.7,246.3 1268.7,238.3 1279.0,250.0 C1289.3,261.7 1280.7,257.3 1297.0,263.0 C1313.3,268.7 1310.3,269.0 1328.0,267.0 C1345.7,265.0 1336.7,265.0 1350.0,257.0 C1363.3,249.0 1356.3,252.7 1368.0,243.0 C1379.7,233.3 1379.3,233.0 1385.0,228.0 L1385.0,140.0Z" fill="#c8d034" filter="url(#b6)"/>
<path d="M1382.5,140.0 C1380.8,133.3 1381.2,133.3 1377.5,120.0 C1373.8,106.7 1376.2,112.7 1371.5,100.0 C1366.8,87.3 1370.0,92.7 1363.5,82.0 C1357.0,71.3 1357.8,74.0 1352.0,68.0 C1346.2,62.0 1350.7,64.0 1346.0,64.0 C1341.3,64.0 1345.3,62.0 1338.0,68.0 C1330.7,74.0 1333.0,71.3 1324.0,82.0 C1315.0,92.7 1319.0,86.7 1311.0,100.0 C1303.0,113.3 1306.3,104.7 1300.0,122.0 C1293.7,139.3 1296.0,127.7 1292.0,152.0 C1288.0,176.3 1289.0,170.7 1288.0,195.0 C1287.0,219.3 1287.0,210.7 1289.0,225.0 C1291.0,239.3 1288.7,231.3 1294.0,238.0 C1299.3,244.7 1293.0,240.3 1305.0,245.0 C1317.0,249.7 1316.7,249.0 1330.0,252.0 C1343.3,255.0 1334.3,254.7 1345.0,254.0 C1355.7,253.3 1351.0,254.7 1362.0,250.0 C1373.0,245.3 1369.3,248.3 1378.0,240.0 C1386.7,231.7 1384.7,230.0 1388.0,225.0 L1390.0,140.0Z" fill="#e08028" filter="url(#b3)"/>
<path d="M1380.0,140.0 C1378.0,133.3 1378.0,132.0 1374.0,120.0 C1370.0,108.0 1372.7,115.3 1368.0,104.0 C1363.3,92.7 1366.0,96.0 1360.0,86.0 C1354.0,76.0 1354.5,79.3 1350.0,74.0 C1345.5,68.7 1349.5,70.0 1346.5,70.0 C1343.5,70.0 1347.2,68.0 1341.0,74.0 C1334.8,80.0 1335.7,78.0 1328.0,88.0 C1320.3,98.0 1324.7,92.7 1318.0,104.0 C1311.3,115.3 1313.7,106.0 1308.0,122.0 C1302.3,138.0 1305.0,127.7 1301.0,152.0 C1297.0,176.3 1297.3,169.7 1296.0,195.0 C1294.7,220.3 1295.7,214.3 1297.0,228.0 C1298.3,241.7 1296.3,231.7 1300.0,236.0 C1303.7,240.3 1298.0,237.3 1308.0,241.0 C1318.0,244.7 1318.0,244.0 1330.0,247.0 C1342.0,250.0 1334.0,250.3 1344.0,250.0 C1354.0,249.7 1350.0,250.0 1360.0,246.0 C1370.0,242.0 1367.0,244.0 1374.0,238.0 C1381.0,232.0 1378.0,240.7 1381.0,228.0 C1384.0,215.3 1382.3,209.3 1383.0,200.0 L1384.0,140.0Z" fill="#d02a28" filter="url(#b2)"/>
<path d="M1356.0,40.0 C1362.0,37.0 1369.3,36.7 1376.0,40.0 C1382.7,43.3 1378.7,46.0 1376.0,50.0 C1373.3,54.0 1374.0,52.3 1368.0,52.0 C1362.0,51.7 1362.0,53.0 1358.0,49.0 C1354.0,45.0 1350.0,43.0 1356.0,40.0Z" fill="#55aac8" filter="url(#b2)"/>
<path d="M1421.0,40.0 C1423.7,3.3 1426.3,3.3 1429.0,40.0 C1431.7,76.7 1430.7,100.0 1429.0,150.0 C1427.3,200.0 1429.0,171.7 1424.0,190.0 C1419.0,208.3 1419.3,201.7 1414.0,205.0 C1408.7,208.3 1407.3,208.3 1408.0,200.0 C1408.7,191.7 1411.7,196.7 1416.0,180.0 C1420.3,163.3 1419.3,196.7 1421.0,150.0 C1422.7,103.3 1418.3,76.7 1421.0,40.0Z" fill="#c8d034" filter="url(#b2)"/>
<path d="M1408.0,36.0 C1412.8,-2.0 1417.7,-2.0 1422.5,36.0 C1427.3,74.0 1424.0,103.7 1422.5,150.0 C1421.0,196.3 1421.5,158.3 1418.0,175.0 C1414.5,191.7 1416.3,191.7 1412.0,200.0 C1407.7,208.3 1406.3,216.7 1405.0,200.0 C1403.7,183.3 1407.0,204.7 1408.0,150.0 C1409.0,95.3 1403.2,74.0 1408.0,36.0Z" fill="#e08a30" filter="url(#b1)"/>
<path d="M1410.0,74.0 C1412.5,70.7 1414.8,72.7 1417.5,76.0 C1420.2,79.3 1420.5,80.7 1418.0,84.0 C1415.5,87.3 1412.7,89.3 1410.0,86.0 C1407.3,82.7 1407.5,77.3 1410.0,74.0Z" fill="#d4322a" filter="url(#b1)"/>
<path d="M1408.0,103.0 C1410.8,98.7 1413.5,100.7 1416.5,105.0 C1419.5,109.3 1419.8,111.7 1417.0,116.0 C1414.2,120.3 1411.0,122.3 1408.0,118.0 C1405.0,113.7 1405.2,107.3 1408.0,103.0Z" fill="#d4322a" filter="url(#b1)"/>
<path d="M1406.0,168.0 C1408.5,161.3 1410.7,164.0 1413.5,170.0 C1416.3,176.0 1417.0,179.3 1414.5,186.0 C1412.0,192.7 1408.8,196.0 1406.0,190.0 C1403.2,184.0 1403.5,174.7 1406.0,168.0Z" fill="#d4322a" filter="url(#b1)"/>
</g></g>
<g filter="url(#soft)"><g clip-path="url(#clipC)">
<rect x="810" y="540" width="340" height="320" fill="#3b55a7"/>
<path d="M854.0,540.0 C854.0,555.0 852.8,554.7 854.0,585.0 C855.2,615.3 857.0,595.3 857.7,631.0 C858.4,666.7 855.8,657.3 856.1,692.0 C856.3,726.7 855.4,713.3 858.5,735.0 C861.6,756.7 859.8,743.7 865.5,757.0 C871.2,770.3 868.2,763.7 875.5,775.0 C882.8,786.3 878.5,780.7 887.5,791.0 C896.5,801.3 891.0,797.2 902.5,806.0 C914.0,814.8 909.5,810.2 922.0,817.5 C934.5,824.8 928.7,822.8 940.0,828.0 C951.3,833.2 945.7,830.7 956.0,833.0 C966.3,835.3 956.3,834.5 971.0,835.0 C985.7,835.5 985.0,835.3 1000.0,834.5 C1015.0,833.7 1006.0,835.2 1016.0,832.5 C1026.0,829.8 1020.0,831.7 1030.0,826.5 C1040.0,821.3 1036.0,824.7 1046.0,817.0 C1056.0,809.3 1049.7,813.5 1060.0,803.5 C1070.3,793.5 1066.3,796.5 1077.0,787.0 C1087.7,777.5 1081.0,782.8 1092.0,775.0 C1103.0,767.2 1099.0,770.7 1110.0,763.5 C1121.0,756.3 1120.0,756.8 1125.0,753.5 L1150.0,760.0 L1150.0,540.0Z" fill="#4170b8" filter="url(#b4)"/>
<path d="M862.0,540.0 C862.0,555.0 861.3,554.7 862.0,585.0 C862.7,615.3 865.0,595.3 864.0,631.0 C863.0,666.7 860.0,657.3 859.0,692.0 C858.0,726.7 858.0,713.3 861.0,735.0 C864.0,756.7 862.3,743.7 868.0,757.0 C873.7,770.3 870.7,763.7 878.0,775.0 C885.3,786.3 881.0,780.7 890.0,791.0 C899.0,801.3 894.3,796.7 905.0,806.0 C915.7,815.3 910.3,811.2 922.0,819.0 C933.7,826.8 928.7,824.3 940.0,829.5 C951.3,834.7 945.7,832.2 956.0,834.5 C966.3,836.8 956.3,836.0 971.0,836.5 C985.7,837.0 985.0,836.8 1000.0,836.0 C1015.0,835.2 1006.0,836.7 1016.0,834.0 C1026.0,831.3 1020.0,833.2 1030.0,828.0 C1040.0,822.8 1036.0,826.2 1046.0,818.5 C1056.0,810.8 1049.7,815.0 1060.0,805.0 C1070.3,795.0 1066.3,798.0 1077.0,788.5 C1087.7,779.0 1081.0,784.3 1092.0,776.5 C1103.0,768.7 1099.0,772.2 1110.0,765.0 C1121.0,757.8 1120.0,758.3 1125.0,755.0 L1150.0,760.0 L1150.0,540.0Z" fill="#4a8fca" filter="url(#b4)"/>
<path d="M870.0,540.0 C870.0,555.0 869.3,554.7 870.0,585.0 C870.7,615.3 873.3,595.3 872.0,631.0 C870.7,666.7 867.7,657.3 866.0,692.0 C864.3,726.7 864.3,713.3 867.0,735.0 C869.7,756.7 868.7,744.0 874.0,757.0 C879.3,770.0 876.0,763.0 883.0,774.0 C890.0,785.0 886.3,780.0 895.0,790.0 C903.7,800.0 899.0,795.2 909.0,804.0 C919.0,812.8 914.0,809.0 925.0,816.5 C936.0,824.0 931.3,821.5 942.0,826.5 C952.7,831.5 947.0,829.2 957.0,831.5 C967.0,833.8 957.7,833.0 972.0,833.5 C986.3,834.0 985.3,833.8 1000.0,833.0 C1014.7,832.2 1006.0,833.7 1016.0,831.0 C1026.0,828.3 1020.0,830.2 1030.0,825.0 C1040.0,819.8 1036.0,823.0 1046.0,815.5 C1056.0,808.0 1049.7,812.2 1060.0,802.5 C1070.3,792.8 1066.3,795.7 1077.0,786.5 C1087.7,777.3 1081.0,782.8 1092.0,775.0 C1103.0,767.2 1099.0,769.7 1110.0,763.0 C1121.0,756.3 1120.0,757.7 1125.0,755.0 L1150.0,760.0 L1150.0,540.0Z" fill="#4fa9d1" filter="url(#b4)"/>
<path d="M880.0,540.0 C880.0,555.0 879.0,554.7 880.0,585.0 C881.0,615.3 884.0,595.3 883.0,631.0 C882.0,666.7 878.0,657.3 877.0,692.0 C876.0,726.7 877.7,713.3 880.0,735.0 C882.3,756.7 880.0,744.3 884.0,757.0 C888.0,769.7 885.7,762.7 892.0,773.0 C898.3,783.3 895.0,778.7 903.0,788.0 C911.0,797.3 907.0,793.0 916.0,801.0 C925.0,809.0 920.3,805.2 930.0,812.0 C939.7,818.8 935.0,816.5 945.0,821.5 C955.0,826.5 950.0,824.3 960.0,827.0 C970.0,829.7 961.7,828.7 975.0,829.5 C988.3,830.3 986.3,830.0 1000.0,829.5 C1013.7,829.0 1006.0,830.5 1016.0,828.0 C1026.0,825.5 1020.0,827.2 1030.0,822.0 C1040.0,816.8 1036.0,820.0 1046.0,812.5 C1056.0,805.0 1049.7,808.8 1060.0,799.5 C1070.3,790.2 1066.3,793.3 1077.0,784.5 C1087.7,775.7 1081.0,781.2 1092.0,773.0 C1103.0,764.8 1099.0,766.0 1110.0,760.0 C1121.0,754.0 1120.0,756.7 1125.0,755.0 L1150.0,760.0 L1150.0,540.0Z" fill="#5cb4b8" filter="url(#b5)"/>
<path d="M1000.0,550.0 C992.7,552.0 990.3,551.0 978.0,556.0 C965.7,561.0 971.3,558.7 963.0,565.0 C954.7,571.3 958.7,568.0 953.0,575.0 C947.3,582.0 951.0,574.3 946.0,586.0 C941.0,597.7 943.0,595.0 938.0,610.0 C933.0,625.0 937.7,612.7 931.0,631.0 C924.3,649.3 925.0,644.7 918.0,665.0 C911.0,685.3 913.3,673.7 910.0,692.0 C906.7,710.3 908.3,705.3 908.0,720.0 C907.7,734.7 908.3,722.7 909.0,736.0 C909.7,749.3 907.3,746.0 910.0,760.0 C912.7,774.0 911.3,767.0 917.0,778.0 C922.7,789.0 919.3,783.7 927.0,793.0 C934.7,802.3 930.7,798.3 940.0,806.0 C949.3,813.7 943.3,810.0 955.0,816.0 C966.7,822.0 960.0,820.5 975.0,824.0 C990.0,827.5 986.3,826.0 1000.0,826.5 C1013.7,827.0 1006.0,827.8 1016.0,825.5 C1026.0,823.2 1020.0,824.7 1030.0,819.5 C1040.0,814.3 1036.0,817.5 1046.0,810.0 C1056.0,802.5 1049.7,806.2 1060.0,797.0 C1070.3,787.8 1066.3,791.2 1077.0,782.5 C1087.7,773.8 1081.0,779.2 1092.0,771.0 C1103.0,762.8 1099.0,764.3 1110.0,758.0 C1121.0,751.7 1120.0,754.0 1125.0,752.0 L1150.0,755.0 L1150.0,540.0 L1000.0,540.0Z" fill="#62b88c" filter="url(#b5)"/>
<path d="M1010.0,555.0 C1004.7,556.7 1004.3,556.3 994.0,560.0 C983.7,563.7 988.3,560.7 979.0,566.0 C969.7,571.3 973.7,569.3 966.0,576.0 C958.3,582.7 962.3,574.7 956.0,586.0 C949.7,597.3 952.3,595.0 947.0,610.0 C941.7,625.0 946.0,612.7 940.0,631.0 C934.0,649.3 935.0,644.7 929.0,665.0 C923.0,685.3 925.3,673.7 922.0,692.0 C918.7,710.3 920.0,705.3 919.0,720.0 C918.0,734.7 919.3,722.7 919.0,736.0 C918.7,749.3 916.0,746.0 918.0,760.0 C920.0,774.0 919.3,767.0 925.0,778.0 C930.7,789.0 927.3,784.0 935.0,793.0 C942.7,802.0 939.0,798.2 948.0,805.0 C957.0,811.8 951.3,808.7 962.0,813.5 C972.7,818.3 967.3,816.8 980.0,819.5 C992.7,822.2 988.0,821.5 1000.0,821.5 C1012.0,821.5 1006.0,822.2 1016.0,819.5 C1026.0,816.8 1020.0,818.3 1030.0,813.5 C1040.0,808.7 1036.0,812.0 1046.0,805.0 C1056.0,798.0 1049.7,801.5 1060.0,792.5 C1070.3,783.5 1066.3,786.8 1077.0,778.0 C1087.7,769.2 1080.3,774.7 1092.0,766.0 C1103.7,757.3 1101.0,758.0 1112.0,752.0 C1123.0,746.0 1120.7,749.3 1125.0,748.0 L1150.0,750.0 L1150.0,540.0 L1010.0,540.0Z" fill="#5cb034" filter="url(#b5)"/>
<path d="M1030.0,574.0 C1025.0,575.0 1023.3,574.0 1015.0,577.0 C1006.7,580.0 1012.0,578.7 1005.0,583.0 C998.0,587.3 1002.0,581.7 994.0,590.0 C986.0,598.3 989.3,596.3 981.0,608.0 C972.7,619.7 976.3,614.3 969.0,625.0 C961.7,635.7 966.7,625.7 959.0,640.0 C951.3,654.3 953.3,650.7 946.0,668.0 C938.7,685.3 942.0,674.7 937.0,692.0 C932.0,709.3 933.3,705.3 931.0,720.0 C928.7,734.7 929.3,722.7 930.0,736.0 C930.7,749.3 930.3,746.7 933.0,760.0 C935.7,773.3 932.0,766.0 938.0,776.0 C944.0,786.0 943.0,782.0 951.0,790.0 C959.0,798.0 954.0,794.2 962.0,800.0 C970.0,805.8 965.7,803.3 975.0,807.5 C984.3,811.7 980.7,809.5 990.0,812.5 C999.3,815.5 994.3,815.3 1003.0,816.5 C1011.7,817.7 1007.0,817.5 1016.0,816.0 C1025.0,814.5 1020.0,816.2 1030.0,812.0 C1040.0,807.8 1036.0,810.5 1046.0,803.5 C1056.0,796.5 1049.7,800.5 1060.0,791.0 C1070.3,781.5 1067.0,783.7 1077.0,775.0 C1087.0,766.3 1082.3,771.0 1090.0,765.0 C1097.7,759.0 1094.0,763.7 1100.0,757.0 C1106.0,750.3 1105.3,749.0 1108.0,745.0 L1150.0,745.0 L1150.0,574.0Z" fill="#a8cc3c" filter="url(#b5)"/>
<path d="M1030.0,585.0 C1025.3,585.7 1022.7,584.7 1016.0,587.0 C1009.3,589.3 1014.3,586.7 1010.0,592.0 C1005.7,597.3 1008.3,594.3 1003.0,603.0 C997.7,611.7 1000.2,608.7 994.0,618.0 C987.8,627.3 991.8,617.0 984.5,631.0 C977.2,645.0 980.2,639.7 972.0,660.0 C963.8,680.3 966.7,672.0 960.0,692.0 C953.3,712.0 955.7,705.3 952.0,720.0 C948.3,734.7 949.3,723.7 949.0,736.0 C948.7,748.3 949.0,744.7 951.0,757.0 C953.0,769.3 951.7,763.3 955.0,773.0 C958.3,782.7 956.0,778.0 961.0,786.0 C966.0,794.0 963.0,790.5 970.0,797.0 C977.0,803.5 973.0,800.8 982.0,805.5 C991.0,810.2 986.7,808.8 997.0,811.0 C1007.3,813.2 1002.0,813.0 1013.0,812.0 C1024.0,811.0 1019.0,812.2 1030.0,808.0 C1041.0,803.8 1036.0,806.3 1046.0,799.5 C1056.0,792.7 1049.7,796.2 1060.0,787.5 C1070.3,778.8 1067.7,781.7 1077.0,773.5 C1086.3,765.3 1081.7,768.5 1088.0,763.0 C1094.3,757.5 1090.3,763.7 1096.0,757.0 C1101.7,750.3 1102.0,747.7 1105.0,743.0 L1150.0,743.0 L1150.0,585.0Z" fill="#c8d034" filter="url(#b4)"/>
<path d="M1030.0,590.0 C1027.3,590.3 1027.0,588.3 1022.0,591.0 C1017.0,593.7 1019.7,591.7 1015.0,598.0 C1010.3,604.3 1013.0,602.0 1008.0,610.0 C1003.0,618.0 1004.8,614.3 1000.0,622.0 C995.2,629.7 998.5,620.3 993.5,633.0 C988.5,645.7 991.7,640.3 985.0,660.0 C978.3,679.7 978.8,672.0 973.5,692.0 C968.2,712.0 970.5,705.3 969.0,720.0 C967.5,734.7 968.7,724.3 969.0,736.0 C969.3,747.7 969.0,743.3 970.0,755.0 C971.0,766.7 969.7,761.7 972.0,771.0 C974.3,780.3 972.7,775.3 977.0,783.0 C981.3,790.7 978.7,787.5 985.0,794.0 C991.3,800.5 987.7,798.3 996.0,802.5 C1004.3,806.7 998.7,806.0 1010.0,806.5 C1021.3,807.0 1018.0,807.7 1030.0,804.0 C1042.0,800.3 1036.0,802.3 1046.0,795.5 C1056.0,788.7 1049.7,791.8 1060.0,783.5 C1070.3,775.2 1068.3,777.8 1077.0,770.5 C1085.7,763.2 1080.7,766.3 1086.0,761.5 C1091.3,756.7 1088.3,762.5 1093.0,756.0 C1097.7,749.5 1097.7,746.7 1100.0,742.0 L1150.0,742.0 L1150.0,590.0Z" fill="#e08028" filter="url(#b3)"/>
<path d="M1030.0,602.0 C1028.0,601.0 1027.7,598.7 1024.0,599.0 C1020.3,599.3 1023.0,597.7 1019.0,603.0 C1015.0,608.3 1016.0,607.3 1012.0,615.0 C1008.0,622.7 1010.0,619.3 1007.0,626.0 C1004.0,632.7 1007.0,623.7 1003.0,635.0 C999.0,646.3 1001.2,641.0 995.0,660.0 C988.8,679.0 989.5,672.0 984.5,692.0 C979.5,712.0 981.8,705.3 980.0,720.0 C978.2,734.7 979.2,725.0 979.0,736.0 C978.8,747.0 979.0,742.3 979.5,753.0 C980.0,763.7 978.8,759.3 980.5,768.0 C982.2,776.7 980.7,771.5 984.5,779.0 C988.3,786.5 986.5,784.0 992.0,790.5 C997.5,797.0 994.3,794.7 1001.0,798.5 C1007.7,802.3 1002.3,801.5 1012.0,802.0 C1021.7,802.5 1018.7,803.5 1030.0,800.0 C1041.3,796.5 1036.0,798.2 1046.0,791.5 C1056.0,784.8 1050.3,787.8 1060.0,780.0 C1069.7,772.2 1067.0,774.7 1075.0,768.0 C1083.0,761.3 1078.3,765.3 1084.0,760.0 C1089.7,754.7 1086.7,758.7 1092.0,752.0 C1097.3,745.3 1097.3,744.0 1100.0,740.0 L1100.0,670.0 L1078.0,670.0 L1068.0,659.0 L1060.0,649.0 L1048.0,638.0 L1036.0,629.0 L1030.0,618.0Z" fill="#d02a28" filter="url(#b2)"/>
<path d="M1012.0,556.0 C1015.3,552.0 1021.3,552.7 1026.0,556.0 C1030.7,559.3 1029.3,562.0 1026.0,566.0 C1022.7,570.0 1020.7,571.3 1016.0,568.0 C1011.3,564.7 1008.7,560.0 1012.0,556.0Z" fill="#55aac8" filter="url(#b2)"/>
</g></g>
<g filter="url(#soft)"><g clip-path="url(#clipD)">
<rect x="1090" y="560" width="50" height="190" fill="#58b0bc"/>
<path d="M1080.0,560.0 C1094.3,496.7 1108.5,533.3 1123.0,560.0 C1137.5,586.7 1123.5,593.3 1123.5,640.0 C1123.5,686.7 1122.8,663.3 1123.0,700.0 C1123.2,736.7 1138.3,733.3 1124.0,750.0 C1109.7,766.7 1094.7,813.3 1080.0,750.0 C1065.3,686.7 1065.7,623.3 1080.0,560.0Z" fill="#5cb034" filter="url(#b2)"/>
<path d="M1090.0,622.0 C1097.0,609.3 1103.7,609.3 1111.0,622.0 C1118.3,634.7 1119.0,647.3 1112.0,660.0 C1105.0,672.7 1097.3,672.7 1090.0,660.0 C1082.7,647.3 1083.0,634.7 1090.0,622.0Z" fill="#a8cc3c" filter="url(#b2)"/>
<path d="M1088.0,644.0 C1091.7,639.3 1095.0,639.7 1099.0,644.0 C1103.0,648.3 1103.7,652.3 1100.0,657.0 C1096.3,661.7 1092.0,662.3 1088.0,658.0 C1084.0,653.7 1084.3,648.7 1088.0,644.0Z" fill="#e0a030" filter="url(#b2)"/>
<path d="M1126.5,562.0 C1129.2,555.3 1132.8,556.0 1136.0,562.0 C1139.2,568.0 1138.7,573.3 1136.0,580.0 C1133.3,586.7 1131.2,588.0 1128.0,582.0 C1124.8,576.0 1123.8,568.7 1126.5,562.0Z" fill="#4080c8" filter="url(#b2)"/>
</g></g>
<g transform="translate(0,0)">
<text class="zh" x="142.3" y="150.6" textLength="108.5" lengthAdjust="spacingAndGlyphs">温度</text>
<text class="t" x="267.8" y="149"><tspan font-style="italic">T</tspan>/K</text>
<text class="n" x="260" y="212.5">2 600</text>
<text class="n" x="260" y="257.9">2 175</text>
<text class="n" x="260" y="303.2">1 750</text>
<text class="n" x="260" y="348.6">1 325</text>
<text class="n" x="260" y="393.9">900</text>
</g>
<rect x="275.4" y="187.3" width="46.2" height="197.2" fill="#c6c6ca" filter="url(#b1)"/>
<rect x="280.0" y="184.0" width="39.0" height="3.8" fill="#72757d"/>
<g filter="url(#bh)">
<rect x="278.0" y="186.8" width="41.0" height="195.7" fill="url(#cb)"/>
<rect x="278.0" y="186.8" width="41.0" height="2.4" fill="#1a1012" opacity="0.62"/>
<rect x="278.0" y="380.1" width="41.0" height="2.4" fill="#14101c" opacity="0.62"/>
<rect x="278.0" y="186.8" width="2.1" height="195.7" fill="#17141a" opacity="0.92"/>
<rect x="316.4" y="186.8" width="2.6" height="195.7" fill="#17141a" opacity="0.92"/>
</g>
<g transform="translate(666.3,0)">
<text class="zh" x="142.3" y="150.6" textLength="108.5" lengthAdjust="spacingAndGlyphs">温度</text>
<text class="t" x="267.8" y="149"><tspan font-style="italic">T</tspan>/K</text>
<text class="n" x="260" y="212.5">2 600</text>
<text class="n" x="260" y="257.9">2 175</text>
<text class="n" x="260" y="303.2">1 750</text>
<text class="n" x="260" y="348.6">1 325</text>
<text class="n" x="260" y="393.9">900</text>
</g>
<rect x="938.5" y="183.9" width="47.1" height="202.9" fill="#c6c6ca" filter="url(#b1)"/>
<g filter="url(#bh)">
<rect x="941.1" y="183.4" width="41.9" height="201.4" fill="url(#cb)"/>
<rect x="941.1" y="183.4" width="41.9" height="2.4" fill="#1a1012" opacity="0.62"/>
<rect x="941.1" y="382.4" width="41.9" height="2.4" fill="#14101c" opacity="0.62"/>
<rect x="941.1" y="183.4" width="2.1" height="201.4" fill="#17141a" opacity="0.92"/>
<rect x="980.4" y="183.4" width="2.6" height="201.4" fill="#17141a" opacity="0.92"/>
</g>
<g transform="translate(343.2,587.3)">
<text class="zh" x="142.3" y="150.6" textLength="108.5" lengthAdjust="spacingAndGlyphs">温度</text>
<text class="t" x="267.8" y="149"><tspan font-style="italic">T</tspan>/K</text>
<text class="n" x="260" y="212.5">2 600</text>
<text class="n" x="260" y="257.9">2 175</text>
<text class="n" x="260" y="303.2">1 750</text>
<text class="n" x="260" y="348.6">1 325</text>
<text class="n" x="260" y="393.9">900</text>
</g>
<rect x="622.6" y="779.0" width="45.7" height="191.0" fill="#c6c6ca" filter="url(#b1)"/>
<rect x="627.2" y="775.8" width="38.5" height="3.7" fill="#c4c4c8"/>
<g filter="url(#bh)">
<rect x="625.2" y="778.5" width="40.5" height="189.5" fill="url(#cb)"/>
<rect x="625.2" y="778.5" width="40.5" height="2.4" fill="#1a1012" opacity="0.62"/>
<rect x="625.2" y="965.6" width="40.5" height="2.4" fill="#14101c" opacity="0.62"/>
<rect x="625.2" y="778.5" width="2.1" height="189.5" fill="#17141a" opacity="0.92"/>
<rect x="663.1" y="778.5" width="2.6" height="189.5" fill="#17141a" opacity="0.92"/>
</g>
<text class="c" x="233.3" y="454">(a)</text>
<text class="zh2" x="309.3" y="454.6" textLength="221.5" lengthAdjust="spacingAndGlyphs">摆动频率</text>
<text class="c" x="546.0" y="454">40</text>
<text class="c" x="616.8" y="454">Hz</text>
<text class="c" x="896.3" y="454">(b)</text>
<text class="zh2" x="972.8" y="454.6" textLength="223.5" lengthAdjust="spacingAndGlyphs">摆动频率</text>
<text class="c" x="1210.0" y="454">60</text>
<text class="c" x="1280.9" y="454">Hz</text>
<g transform="translate(0,581)">
<text class="c" x="582.3" y="454">(c)</text>
<text class="zh2" x="658.3" y="454.6" textLength="221.5" lengthAdjust="spacingAndGlyphs">摆动频率</text>
<text class="c" x="894.5" y="454">80</text>
<text class="c" x="964.3" y="454">Hz</text>
</g>
</svg>
</body>
</html>
